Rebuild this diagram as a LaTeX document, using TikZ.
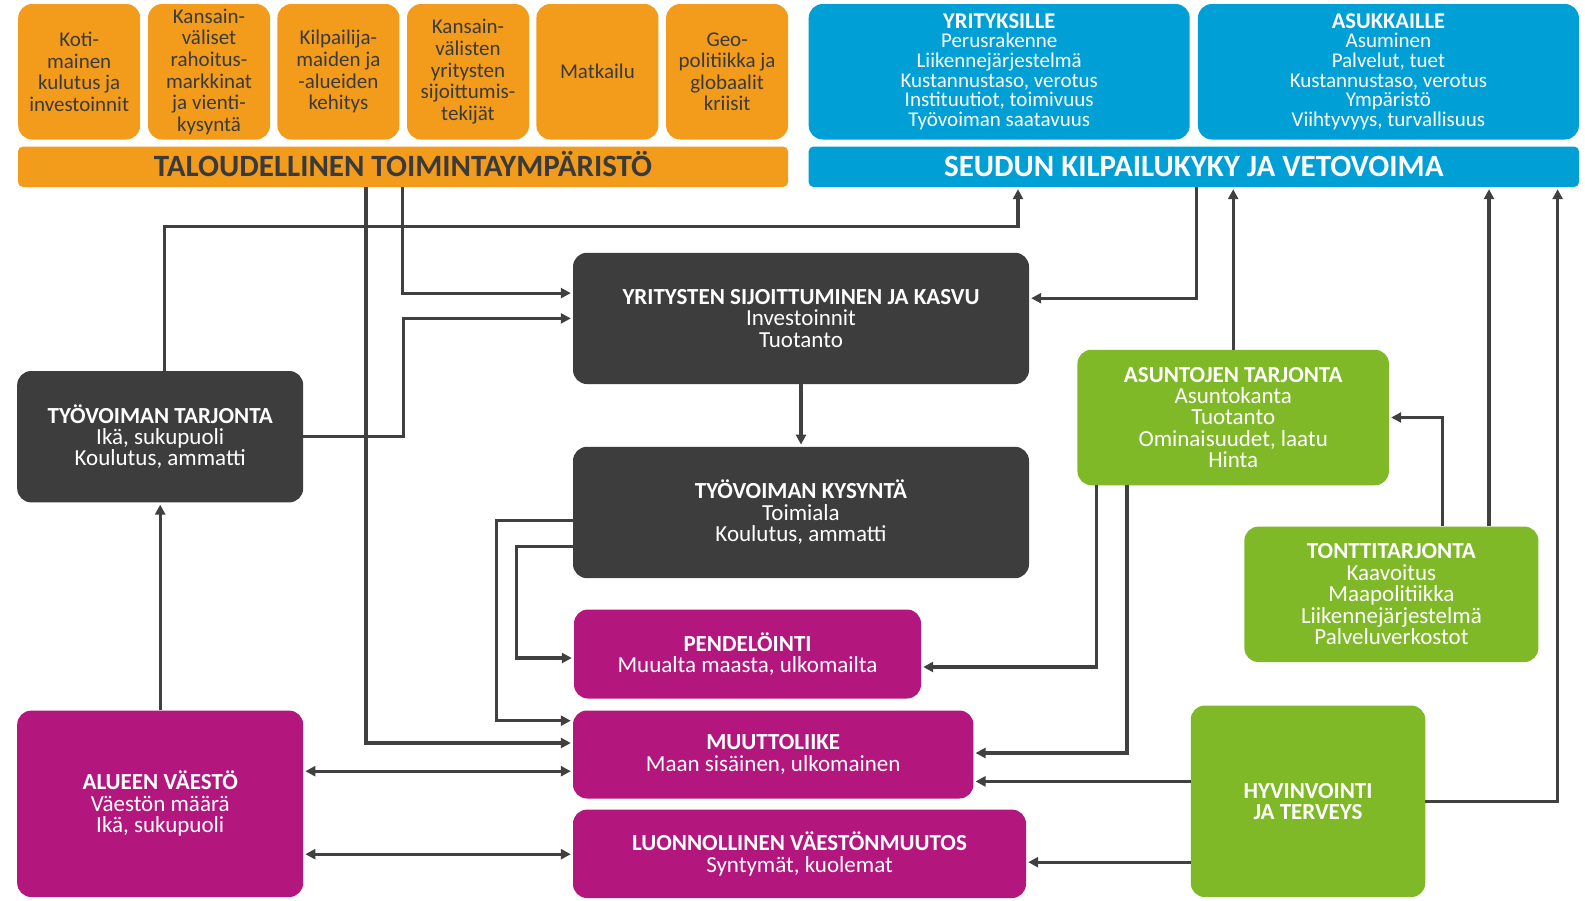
\documentclass[tikz,border=0pt]{standalone}
\usepackage{fontspec}
\setmainfont{Carlito}
\usetikzlibrary{arrows.meta}
\definecolor{oran}{HTML}{F39C1B}
\definecolor{blu}{HTML}{009FD5}
\definecolor{drk}{HTML}{3D3D3D}
\definecolor{mag}{HTML}{B3177D}
\definecolor{grn}{HTML}{7FB927}
\definecolor{lin}{HTML}{404040}
\definecolor{otxt}{HTML}{3A3A3A}
\newcommand{\hd}[1]{{\fontsize{22.5}{21.4}\selectfont\bfseries #1}}
\tikzset{
 base/.style={rounded corners=14pt, inner sep=0pt, align=center, text=white, font=\fontsize{23}{21.4}\selectfont},
 sz/.style 2 args={minimum width=#1pt, minimum height=#2pt},
 obox/.style={base, fill=oran, text=otxt, font=\fontsize{21}{21.6}\selectfont, sz={122}{135.5}},
 bbox/.style={base, fill=blu, font=\fontsize{21}{19.7}\selectfont, sz={381}{135.5}},
 bar/.style={rounded corners=5pt, inner sep=0pt, text height=20pt, text depth=0pt, font=\fontsize{31}{31}\selectfont\bfseries, sz={770}{40.5}},
 dbox/.style={base, fill=drk},
 mbox/.style={base, fill=mag},
 gbox/.style={base, fill=grn},
 arr/.style={draw=lin, line width=3.2pt, shorten >=2pt, -{Triangle[length=10pt,width=10pt]}},
 darr/.style={draw=lin, line width=3.2pt, shorten >=2pt, shorten <=2pt, {Triangle[length=10pt,width=10pt]}-{Triangle[length=10pt,width=10pt]}},
}
\begin{document}
\begin{tikzpicture}[x=1pt,y=-1pt]
\useasboundingbox (0,0) rectangle (1585,900);
\fill[white] (0,0) rectangle (1585,900);
% orange boxes
\node[obox] (o1) at (79.2,71.75) {Koti-\\mainen\\kulutus ja\\investoinnit};
\node[obox] (o2) at (209,71.75) {Kansain-\\väliset\\rahoitus-\\markkinat\\ja vienti-\\kysyntä};
\node[obox] (o3) at (338.4,71.75) {Kilpailija-\\maiden ja\\-alueiden\\kehitys};
\node[obox] (o4) at (468,71.75) {Kansain-\\välisten\\yritysten\\sijoittumis-\\tekijät};
\node[obox] (o5) at (597.4,71.75) {Matkailu};
\node[obox] (o6) at (727.1,71.75) {Geo-\\politiikka ja\\globaalit\\kriisit};
\node[bar, fill=oran, text=otxt] (OB) at (403,166.75) {TALOUDELLINEN TOIMINTAYMPÄRISTÖ};
% blue boxes
\node[bbox] (BY) at (999.2,71.75) {\hd{YRITYKSILLE}\\Perusrakenne\\Liikennejärjestelmä\\Kustannustaso, verotus\\Instituutiot, toimivuus\\Työvoiman saatavuus};
\node[bbox] (BA) at (1388.4,71.75) {\hd{ASUKKAILLE}\\Asuminen\\Palvelut, tuet\\Kustannustaso, verotus\\Ympäristö\\Viihtyvyys, turvallisuus};
\node[bar, fill=blu, text=white, sz={770.4}{40.5}] (SB) at (1193.8,166.75) {SEUDUN KILPAILUKYKY JA VETOVOIMA};
% dark boxes
\node[dbox, sz={286}{131.4}] (TT) at (160.2,436.7) {\bfseries TYÖVOIMAN TARJONTA\\Ikä, sukupuoli\\Koulutus, ammatti};
\node[dbox, sz={456}{131.3}] (YS) at (801,318.4) {\bfseries YRITYSTEN SIJOITTUMINEN JA KASVU\\Investoinnit\\Tuotanto};
\node[dbox, sz={456}{131.4}] (TK) at (801,512.5) {\bfseries TYÖVOIMAN KYSYNTÄ\\Toimiala\\Koulutus, ammatti};
% magenta boxes
\node[mbox, sz={347}{89}] (PEN) at (747.5,654) {\bfseries PENDELÖINTI\\Muualta maasta, ulkomailta};
\node[mbox, sz={400.4}{88}] (MUU) at (773.2,754.5) {\bfseries MUUTTOLIIKE\\Maan sisäinen, ulkomainen};
\node[mbox, sz={453}{88.4}] (LUO) at (799.5,853.8) {\bfseries LUONNOLLINEN VÄESTÖNMUUTOS\\Syntymät, kuolemat};
\node[mbox, sz={286}{186.4}] (ALU) at (160.2,803.8) {\bfseries ALUEEN VÄESTÖ\\Väestön määrä\\Ikä, sukupuoli};
% green boxes
\node[gbox, sz={311.5}{135.5}] (AS) at (1233.2,417.5) {\bfseries ASUNTOJEN TARJONTA\\Asuntokanta\\Tuotanto\\Ominaisuudet, laatu\\Hinta};
\node[gbox, sz={294}{135.4}] (TO) at (1391.4,594.3) {\bfseries TONTTITARJONTA\\Kaavoitus\\Maapolitiikka\\Liikennejärjestelmä\\Palveluverkostot};
\node[gbox, sz={234.5}{191.5}, font=\fontsize{23}{21.4}\selectfont\bfseries] (HY) at (1308,801.3) {HYVINVOINTI\\JA TERVEYS};
% helper coordinates
\coordinate (k1) at (164.8,226.4);
\coordinate (k2) at (1018,226.4);
\coordinate (k3) at (1196.8,298.2);
\coordinate (k4) at (1489,500);
\coordinate (k5) at (1442.4,417.5);
\coordinate (k6) at (1557.6,801.6);
\coordinate (k7) at (1096.7,667);
\coordinate (k8) at (1127,753);
\coordinate (k9) at (496.3,520.6);
\coordinate (k10) at (496.3,720.7);
\coordinate (k11) at (516.5,546.8);
\coordinate (k12) at (516.5,658);
\coordinate (k13) at (365.9,743);
\coordinate (k14) at (402.3,293.1);
\coordinate (k15) at (403.5,436.7);
\coordinate (k16) at (403.5,318.4);
\coordinate (k17) at (0,781.4);
\coordinate (k18) at (0,862.2);
\coordinate (k19) at (0,771.2);
\coordinate (k20) at (0,854.2);
% connectors
\draw[arr] (TT.north -| k1) -- (k1) -- (k2) -- (SB.south -| k2);
\draw[arr] (SB.south -| k3) -- (k3) -- (YS.east |- k3);
\draw[arr] (YS.south) -- (TK.north);
\draw[arr] (AS.north) -- (SB.south -| AS.north);
\draw[arr] (TO.north -| k4) -- (SB.south -| k4);
\draw[arr] (TO.north -| k5) -- (k5) -- (AS.east |- k5);
\draw[arr] (HY.east |- k6) -- (k6) -- (SB.south -| k6);
\draw[arr] (AS.south -| k7) -- (k7) -- (PEN.east |- k7);
\draw[arr] (AS.south -| k8) -- (k8) -- (MUU.east |- k8);
\draw[arr] (HY.west |- k17) -- (MUU.east |- k17);
\draw[arr] (HY.west |- k18) -- (LUO.east |- k18);
\draw[arr] (TK.west |- k9) -- (k9) -- (k10) -- (MUU.west |- k10);
\draw[arr] (TK.west |- k11) -- (k11) -- (k12) -- (PEN.west |- k12);
\draw[arr] (ALU.north) -- (TT.south);
\draw[darr] (ALU.east |- k19) -- (MUU.west |- k19);
\draw[darr] (ALU.east |- k20) -- (LUO.west |- k20);
\draw[arr] (OB.south -| k13) -- (k13) -- (MUU.west |- k13);
\draw[arr] (OB.south -| k14) -- (k14) -- (YS.west |- k14);
\draw[arr] (TT.east |- k15) -- (k15) -- (k16) -- (YS.west |- k16);
\end{tikzpicture}
\end{document}
